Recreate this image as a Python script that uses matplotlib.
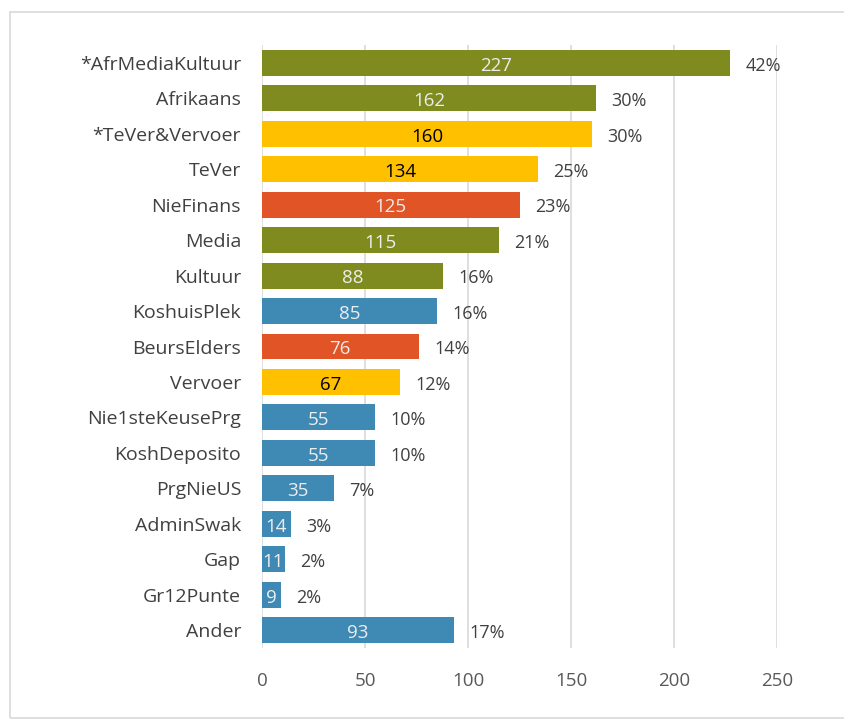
import matplotlib
matplotlib.use("Agg")
import matplotlib.pyplot as plt

categories = ["*AfrMediaKultuur", "Afrikaans", "*TeVer&Vervoer", "TeVer", "NieFinans",
              "Media", "Kultuur", "KoshuisPlek", "BeursElders", "Vervoer",
              "Nie1steKeusePrg", "KoshDeposito", "PrgNieUS", "AdminSwak", "Gap",
              "Gr12Punte", "Ander"]
values = [227, 162, 160, 134, 125, 115, 88, 85, 76, 67, 55, 55, 35, 14, 11, 9, 93]
percents = ["42%", "30%", "30%", "25%", "23%", "21%", "16%", "16%", "14%", "12%",
            "10%", "10%", "7%", "3%", "2%", "2%", "17%"]
groups = ["g", "g", "y", "y", "r", "g", "g", "b", "r", "y",
          "b", "b", "b", "b", "b", "b", "b"]
xticks = [0, 50, 100, 150, 200, 250]

colors = {"g": "#7F8B1F", "y": "#FFC000", "r": "#E05426", "b": "#3F89B5"}
inner_text = {"g": "#EDEDED", "y": "#000000", "r": "#EDEDED", "b": "#EDEDED"}

plt.rcParams["font.family"] = ["Open Sans", "DejaVu Sans"]

fig = plt.figure(figsize=(8.45, 7.2), dpi=100)
ax = fig.add_axes([0.310, 0.100, 0.610, 0.8375])

ypos = list(range(len(categories)))
ax.barh(ypos, values, height=0.73, color=[colors[g] for g in groups], zorder=3)

for y, v, p, g in zip(ypos, values, percents, groups):
    ax.text(v / 2, y + 0.08, str(v), ha="center", va="center", fontsize=13.5,
            color=inner_text[g], zorder=4)
    ax.annotate(p, xy=(v, y + 0.08), xytext=(11, 0), textcoords="offset points",
                ha="left", va="center", fontsize=13, color="#404040")

ax.set_xlim(0, 250)
ax.set_ylim(16.5, -0.5)
ax.set_yticks(ypos)
ax.set_yticklabels(categories, fontsize=14, color="#404040")
ax.set_xticks(xticks)
ax.set_xticklabels([str(t) for t in xticks], fontsize=13.5, color="#595959")
ax.tick_params(axis="y", length=0, pad=15)
ax.tick_params(axis="x", length=0, pad=17)
ax.xaxis.grid(True, color="#D9D9D9", linewidth=1.2, zorder=0)
ax.set_axisbelow(True)
for s in ax.spines.values():
    s.set_visible(False)

# outer chart border
fig.patches.append(plt.Rectangle((10 / 845, 2 / 720), 1.0, 1 - 14 / 720,
                                 transform=fig.transFigure, fill=False,
                                 edgecolor="#D9D9D9", linewidth=1.2))

fig.savefig("out.png", dpi=100)
